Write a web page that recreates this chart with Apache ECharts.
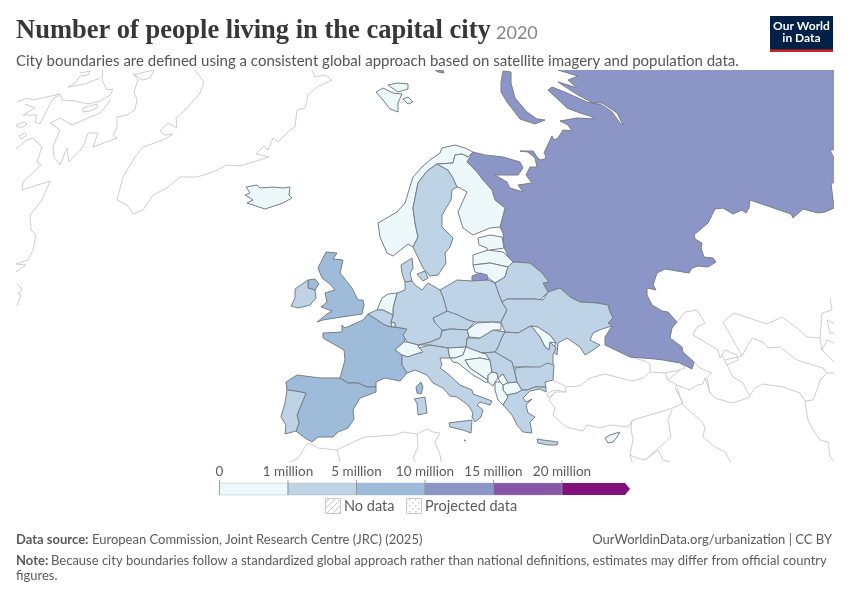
<!DOCTYPE html>
<html><head><meta charset="utf-8">
<script src="https://cdn.jsdelivr.net/npm/echarts@6/dist/echarts.min.js"></script>
<style>html,body{margin:0;padding:0;background:#fff}#c{width:850px;height:600px}</style>
</head><body><div id="c"></div>
<script>
// Data (capital-city population, persons; estimated inside each colour bin)
const countries = ["Russia","United Kingdom","France","Spain","Norway","Sweden","Finland","Iceland","Denmark","Estonia","Latvia","Lithuania","Belarus","Poland","Ukraine","Moldova","Romania","Hungary","Slovakia","Czechia","Austria","Germany","Netherlands","Belgium","Luxembourg","Switzerland","Italy","Portugal","Ireland","Slovenia","Croatia","Bosnia","Montenegro","Serbia","Kosovo","North Macedonia","Albania","Bulgaria","Greece","Cyprus","Malta"];
const capitalPopulation = [12600000,9400000,9800000,5600000,700000,1400000,900000,200000,1300000,400000,600000,500000,1800000,1700000,2900000,600000,1800000,1800000,400000,1200000,1900000,3700000,900000,1900000,100000,400000,3300000,2000000,1200000,250000,700000,300000,150000,1300000,200000,500000,500000,1200000,3000000,250000,1100000];
const binEdges = [0,1000000,5000000,10000000,15000000,20000000];
const binLabels = ["0","1 million","5 million","10 million","15 million","20 million"];
const binColors = ["#edf8fb","#bfd3e6","#9ebcda","#8c96c6","#8856a7","#810f7c"];

// Map outlines, in map units (flat x,y lists)
const shapes = {
 "Russia":[[473,152,485,155,503,157,520,162,523,168,518,175,495,175,507,182,510,188,523,192,518,185,532,183,526,175,530,167,537,167,535,158,528,152,520,151,533,151,537,157,540,160,545,159,546,156,544,153,552,136,554,140,558,138,563,130,572,131,568,125,560,121,577,118,595,119,590,116,580,113,567,108,548,90,552,87,567,93,587,102,602,105,612,112,620,123,623,125,617,113,602,103,593,103,578,95,567,88,558,82,568,85,577,88,568,80,578,76,558,70,558,60,850,60,850,148,830,150,835,160,850,160,850,182,831,183,833,200,836,207,825,212,818,213,803,209,793,218,791,214,750,200,749,208,746,213,742,210,733,214,723,208,715,209,708,223,694,235,695,239,702,243,701,248,704,257,713,258,716,262,708,267,698,266,692,268,689,273,665,269,657,273,653,285,656,290,647,288,647,295,652,305,662,311,668,312,677,322,672,328,670,338,682,347,683,352,694,362,692,369,680,363,663,360,655,359,630,357,605,345,605,337,612,326,608,323,613,318,610,312,608,305,597,303,580,302,570,297,560,288,548,292,543,283,549,282,542,273,530,263,515,262,510,262,504,247,503,233,500,227,505,208,495,200,492,190,483,180,477,172,467,162],
  [503,71,511,72,511,83,515,98,527,112,537,119,545,120,535,124,520,119,507,102,501,92,501,82],[435,70,443,70,444,73,438,72]],
 "United Kingdom":[[326,252,337,253,333,259,343,260,340,273,352,288,358,300,363,300,364,305,362,314,335,318,323,320,317,322,327,314,332,311,321,307,327,302,325,293,335,290,330,284,322,278,318,268],[308,280,315,279,319,284,315,290,308,288]],
 "France":[[368,314,385,325,392,327,395,327,407,329,404,342,395,350,402,355,402,365,407,373,400,381,385,378,376,382,376,387,367,387,358,383,348,383,340,378,345,360,344,350,323,338,323,333,342,332,342,325,345,328,363,320],[416,387,421,382,423,387,421,394,417,393]],
 "Spain":[[286,382,297,375,320,378,340,378,348,383,358,383,367,387,376,387,376,392,360,398,353,410,354,419,348,428,338,432,333,437,318,437,312,442,305,438,296,431,299,423,297,415,302,403,306,393,295,391,287,390]],
 "Norway":[[378,223,397,212,405,203,413,177,422,167,430,160,440,153,442,148,455,145,465,148,473,152,468,157,462,154,455,155,453,163,437,164,427,171,418,183,413,208,415,223,418,237,413,247,408,244,393,256,387,253,380,237],[376,92,383,88,393,93,402,94,398,103,398,112,390,109,383,100],[388,85,398,83,408,84,408,89,398,92],[403,99,408,97,413,102,408,104]],
 "Sweden":[[437,164,427,171,418,183,413,208,415,223,418,237,413,247,423,268,430,276,438,275,446,263,445,253,450,247,453,238,442,227,442,215,451,200,452,190,457,187,453,178,448,170]],
 "Finland":[[437,164,453,163,455,155,462,154,468,157,473,152,467,162,477,172,483,180,492,190,495,200,505,208,500,227,490,228,473,235,463,228,458,212,467,192,460,188,457,187,453,178,448,170]],
 "Iceland":[[246,187,257,185,260,188,273,187,283,188,290,187,289,195,292,198,283,203,265,209,247,203,253,200,245,195,250,193]],
 "Denmark":[[401,265,412,258,413,268,410,273,412,281,405,282,402,273],[417,274,425,271,428,278,423,281]],
 "Estonia":[[478,238,490,235,502,237,504,248,490,250,487,254,487,248,479,245]],
 "Latvia":[[473,255,488,250,503,252,513,262,508,267,490,263,473,265]],
 "Lithuania":[[473,265,490,263,508,267,505,277,495,283,487,277,478,273,475,272]],
 "Kaliningrad":[[472,276,480,273,487,275,488,280,472,281]],
 "Belarus":[[495,283,505,277,508,267,513,262,530,263,542,273,549,282,543,283,548,292,540,300,535,299,507,299,502,302,498,292,495,287]],
 "Poland":[[440,290,457,280,472,281,488,280,495,283,498,292,502,302,507,310,501,322,492,322,475,322,468,320,458,315,447,312,443,297]],
 "Ukraine":[[502,302,507,299,535,299,543,300,548,292,560,288,570,297,580,302,597,303,608,305,610,312,613,318,608,323,612,326,602,329,593,333,590,340,600,345,590,352,585,355,580,347,567,338,558,343,557,355,552,350,556,343,550,335,537,327,531,326,527,328,518,333,505,332,501,322,507,310]],
 "Moldova":[[531,326,538,327,550,335,556,343,550,342,549,350,545,347,540,337]],
 "Romania":[[505,332,518,333,527,328,531,326,540,337,545,347,549,350,550,342,556,348,553,355,553,365,540,368,527,367,513,367,512,362,495,352,498,347,502,337]],
 "Hungary":[[467,338,480,338,493,330,505,332,502,337,498,347,495,352,482,353,466,347]],
 "Slovakia":[[467,330,477,323,492,322,501,323,501,330,493,330,480,338,469,337]],
 "Czechia":[[433,318,447,311,458,315,468,320,475,322,467,330,450,329,442,330,435,323]],
 "Austria":[[418,345,430,342,440,338,442,331,450,329,467,330,469,337,467,338,466,347,448,348,430,345]],
 "Germany":[[405,282,412,281,415,285,422,290,428,283,440,290,443,297,447,311,433,318,435,323,442,330,440,338,430,342,418,345,407,342,403,335,407,329,395,327,395,323,391,322,393,315,393,308,397,293,405,290]],
 "Netherlands":[[377,310,382,298,388,294,397,293,393,308,393,315,383,310]],
 "Belgium":[[368,314,377,310,383,310,393,315,391,322,392,327,385,325]],
 "Luxembourg":[[391,322,395,323,395,327,392,327]],
 "Switzerland":[[395,350,404,342,407,342,418,345,419,348,423,352,413,355,408,357,402,355]],
 "Italy":[[402,355,408,357,413,355,423,352,419,348,430,345,448,348,449,354,450,358,440,358,442,365,440,368,447,373,460,385,472,390,473,394,492,401,490,405,480,402,477,405,483,410,481,417,475,422,472,417,473,413,468,405,457,397,450,396,443,388,433,383,427,375,415,370,407,373,402,365],[414,399,425,397,427,413,418,415,417,403],[449,423,472,420,471,433,463,430,450,427]],
 "Portugal":[[287,390,295,391,306,393,302,403,297,415,299,423,296,431,285,434,286,425,281,417,285,403]],
 "Ireland":[[295,289,308,280,308,288,315,290,316,298,310,305,298,308,291,306,295,298]],
 "Slovenia":[[448,348,466,347,463,355,455,358,450,358,449,354]],
 "Croatia":[[450,358,455,358,463,355,466,347,482,353,485,353,490,360,480,358,465,360,470,368,488,380,487,383,473,375,458,363,453,362]],
 "Bosnia":[[465,360,480,358,490,360,492,372,488,375,488,380,470,368]],
 "Montenegro":[[488,375,492,372,497,373,498,378,495,382,493,386,488,382]],
 "Serbia":[[482,353,495,352,512,362,515,373,517,382,508,383,503,374,498,378,497,373,492,372,490,360,485,353]],
 "Kosovo":[[498,378,503,374,508,383,503,385,500,382]],
 "North Macedonia":[[503,385,508,383,517,382,522,390,517,393,507,395,503,390]],
 "Albania":[[495,382,500,382,503,385,503,390,507,395,508,397,503,405,498,400,495,390]],
 "Bulgaria":[[515,368,523,367,540,367,547,363,554,365,553,380,545,382,546,387,535,387,527,390,522,390,517,382,515,373]],
 "Greece":[[508,397,507,395,517,393,522,390,527,390,535,387,546,387,546,392,540,389,530,391,523,398,526,402,532,399,526,405,528,413,535,417,530,422,532,433,523,432,517,425,512,415,505,407,503,405],[537,439,543,440,558,442,557,445,548,445,538,443]],
 "Cyprus":[[605,438,610,435,620,432,617,437,613,442,608,443]],
 "Malta":[[464,440,466,441,465,442]]
};
// Kaliningrad follows its country's bin
const regionBin = {"Kaliningrad":"Russia"};
const noDataLines = [
 [195,65,195,70,204,82,200,93,185,110,176,118,177,128,168,123,160,131,165,135,173,134,163,140,143,147,135,157,123,177,117,200,127,205,133,214,143,210,153,195,167,188,180,177,197,177,213,172,227,165,240,166,269,157,256,154,264,146,268,150,273,138,278,142,290,130,295,127,297,110,305,108,308,95,317,87,332,80,325,75,315,77,312,70,311,65],
 [103,66,102,80,107,90,113,89,110,95,100,101,88,104,75,101,62,100,60,94,33,100,27,98,17,102],
 [60,94,52,100,48,108,43,118,40,124,35,122,37,115,23,115,35,108,25,104],
 [133,73,138,80,134,92,137,100,135,110,127,115,117,117,117,128,113,135,117,138,93,147,98,133,88,133,83,147,69,162,67,148,60,165,54,157,53,147,60,130,50,123,60,118,72,125,88,118,100,113,111,100],
 [80,73,90,71,88,75,80,76,75,83,68,87,85,84,100,78],
 [133,75,145,72,154,70,150,78,143,80,135,75],
 [83,108,90,106,97,104,97,108,90,111,83,112,83,108],
 [16,125,24,122,27,124,24,127,17,127,16,125],
 [19,136,25,133,27,135,21,139,19,136],
 [12,150,17,148,27,140,33,138,42,147,37,162,41,165,23,182,22,190,50,181,42,200,30,215,31,230,36,235,33,250,28,260,16,264,26,265,16,272],
 [17,284,22,289,18,294,21,295,17,306],
 [283,466,298,458,307,444,312,444,318,448,337,450,353,442,365,437,395,435,403,432,417,434,427,429,433,432,440,433,435,442,440,455,442,466],
 [337,450,341,466],[417,434,418,447,413,458,418,466],
 [553,380,565,386,566,392,555,390,548,393,547,397,550,397,555,392,566,392],
 [566,387,580,386,590,378,605,374,620,378,632,381,643,378,650,372,665,373,668,380,677,385,675,388,683,403,673,408,643,417,633,420,628,427,610,425,600,428,587,425,583,431,566,427,553,415,555,408,549,400,555,392],
 [630,357,645,361,650,364,650,372],[665,373,680,370,685,368,680,363],[668,380,680,370],[677,385,690,390,697,385,703,384,705,378,710,393],
 [694,362,700,368,712,373,707,378,710,393,715,398,732,403,748,398,755,388,763,384,783,387,800,393,805,401,813,400,817,390,820,380,827,373,838,373],
 [677,322,685,312,697,310,705,323,697,327,693,335,718,350,720,358,725,350,737,355,738,360,727,365,722,355],
 [727,365,733,377,743,383,750,397],
 [723,322,734,313,767,324,782,317,797,328,807,337,820,338,822,313,832,310,830,298],
 [723,322,742,356,752,338,763,342,768,348,780,347,797,360,823,368,827,373],
 [742,356,725,360],
 [820,338,822,350,836,364],[838,325,827,320,830,333,838,333],[822,350,827,340,838,345],
 [805,401,808,420,812,428,820,440,828,442,830,457,838,466],
 [677,388,683,405,702,422,705,427,703,437,715,447,725,452,733,466],
 [672,410,668,420,671,437,645,460,658,450,663,460,685,466],
 [632,420,631,428,633,440,630,455,633,466],[630,455,637,458,645,460]
];

const toRing = a => { const r=[]; for(let i=0;i<a.length;i+=2) r.push([a[i],a[i+1]]); r.push(r[0].slice()); return r; };
const toLine = a => { const r=[]; for(let i=0;i<a.length;i+=2) r.push([a[i],a[i+1]]); return r; };
const features = [{type:"Feature",properties:{name:"nodata"},geometry:{type:"MultiLineString",coordinates:noDataLines.map(toLine)}}];
Object.keys(shapes).forEach(n=>features.push({type:"Feature",properties:{name:n},geometry:{type:"MultiPolygon",coordinates:shapes[n].map(s=>[toRing(s)])}}));
echarts.registerMap("europe",{type:"FeatureCollection",features});

const chart = echarts.init(document.getElementById("c"),null,{renderer:"canvas"});
const seriesData = Object.keys(shapes).map(n=>({name:n,value:capitalPopulation[countries.indexOf(regionBin[n]||n)],itemStyle:{borderColor:"#767e88",borderWidth:1}}));
const pieces = binEdges.map((e,i)=>({min:e,max:i<binEdges.length-1?binEdges[i+1]:1e12,color:binColors[i]}));

function pattern(kind){
  const c=document.createElement("canvas");c.width=c.height=6;const g=c.getContext("2d");
  g.fillStyle="#fff";g.fillRect(0,0,6,6);g.strokeStyle="#c8c8c8";g.fillStyle="#c8c8c8";
  if(kind==="hatch"){g.lineWidth=1;g.beginPath();g.moveTo(0,6);g.lineTo(6,0);g.moveTo(-3,3);g.lineTo(3,-3);g.moveTo(3,9);g.lineTo(9,3);g.stroke();}
  else{g.fillRect(1,1,1.5,1.5);g.fillRect(4,4,1.5,1.5);}
  return c;
}
const TXT="#5b5b5b", LATO="Lato";
const legendX=[219.5,288,356.5,425,493.5,562,625], legendY=483, legendH=12;
const g=[];
binColors.forEach((col,i)=>{
  const x0=legendX[i],x1=legendX[i+1];
  if(i<5) g.push({type:"rect",shape:{x:x0,y:legendY,width:x1-x0,height:legendH},style:{fill:col,stroke:"#a5adb3",lineWidth:.4},silent:true});
  else g.push({type:"polygon",shape:{points:[[x0,legendY],[x1,legendY],[x1+5,legendY+legendH/2],[x1,legendY+legendH],[x0,legendY+legendH]]},style:{fill:col},silent:true});
});
binLabels.forEach((t,i)=>{
  g.push({type:"line",shape:{x1:legendX[i],y1:legendY-3,x2:legendX[i],y2:legendY+legendH},style:{stroke:"#8a8f96",lineWidth:.8},silent:true});
  g.push({type:"text",x:legendX[i],y:472,style:{text:t,fill:TXT,font:"13.5px "+LATO,textAlign:"center",textVerticalAlign:"middle"},silent:true});
});
const T=(x,y,text,font,fill,align)=>g.push({type:"text",x,y,silent:true,style:{text,font:font+" "+LATO,fill:fill||TXT,textAlign:align||"left",textVerticalAlign:"middle"}});
g.push({type:"rect",shape:{x:325.5,y:498.5,width:15,height:15},style:{fill:{image:pattern("hatch"),repeat:"repeat"},stroke:"#c8c8c8",lineWidth:1},silent:true});
T(344,506,"No data","14.5px");
g.push({type:"rect",shape:{x:406.5,y:498.5,width:15,height:15},style:{fill:{image:pattern("dots"),repeat:"repeat"},stroke:"#c8c8c8",lineWidth:1},silent:true});
T(425,506,"Projected data","14.5px");
// heading
g.push({type:"text",x:16,y:31,silent:true,style:{text:"Number of people living in the capital city",font:"bold 26.5px 'Liberation Serif'",fill:"#373737",textVerticalAlign:"middle"}});
T(496,33,"2020","18px","#858585");
T(16,61,"City boundaries are defined using a consistent global approach based on satellite imagery and population data.","15px","#555");
// logo
g.push({type:"rect",shape:{x:770,y:16,width:63,height:36},style:{fill:"#002147"},silent:true});
g.push({type:"rect",shape:{x:770,y:49.5,width:63,height:2.5},style:{fill:"#ce261e"},silent:true});
T(801.5,26.5,"Our World","bold 12px","#fff","center");
T(801.5,38.5,"in Data","bold 12px","#fff","center");
// footer
T(16,540,"Data source:","bold 13px");
T(92,540,"European Commission, Joint Research Centre (JRC) (2025)","13px");
T(832,540,"OurWorldinData.org/urbanization | CC BY","13px",TXT,"right");
T(16,561,"Note:","bold 13px");
T(51,561,"Because city boundaries follow a standardized global approach rather than national definitions, estimates may differ from official country","13px");
T(16,576,"figures.","13px");

chart.setOption({
  animation:false,backgroundColor:"#fff",
  visualMap:{show:false,type:"piecewise",seriesIndex:0,pieces,outOfRange:{color:"#fff"}},
  series:[{type:"map",map:"europe",silent:true,clip:true,roam:false,
    left:16,top:70,width:818,height:392,
    boundingCoords:[[16,70],[834,462]],
    projection:{project:p=>p,unproject:p=>p},
    label:{show:false},emphasis:{disabled:true},select:{disabled:true},
    itemStyle:{areaColor:"rgba(0,0,0,0)",borderColor:"#cdcdcd",borderWidth:1},
    data:seriesData}],
  graphic:g
});
</script></body></html>
